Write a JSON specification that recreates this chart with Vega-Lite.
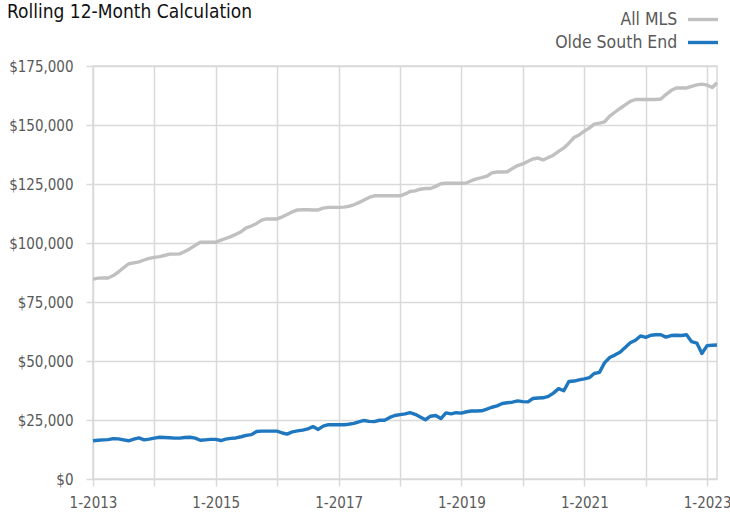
{
  "$schema": "https://vega.github.io/schema/vega-lite/v6.json",
  "autosize": "none",
  "width": 624,
  "height": 413,
  "padding": {"left": 93, "top": 66, "right": 13, "bottom": 35},
  "background": "white",
  "title": {
    "text": "Rolling 12-Month Calculation",
    "anchor": "start",
    "frame": "group",
    "dx": -86,
    "font": "DejaVu Sans Condensed, sans-serif",
    "fontSize": 19,
    "fontWeight": "normal",
    "color": "#111111",
    "baseline": "alphabetic",
    "offset": -27
  },
  "config": {
    "font": "DejaVu Sans Condensed, sans-serif",
    "view": {"stroke": "#d9d9d9", "strokeWidth": 1.5}
  },
  "data": {
    "values": [
      {"date": "2013-01-01", "All MLS": 84700, "Olde South End": 16200},
      {"date": "2013-02-01", "All MLS": 85100, "Olde South End": 16400},
      {"date": "2013-03-01", "All MLS": 85200, "Olde South End": 16600},
      {"date": "2013-04-01", "All MLS": 85200, "Olde South End": 16700},
      {"date": "2013-05-01", "All MLS": 86200, "Olde South End": 17100},
      {"date": "2013-06-01", "All MLS": 87700, "Olde South End": 17000},
      {"date": "2013-07-01", "All MLS": 89500, "Olde South End": 16600},
      {"date": "2013-08-01", "All MLS": 91200, "Olde South End": 16200},
      {"date": "2013-09-01", "All MLS": 91600, "Olde South End": 16900},
      {"date": "2013-10-01", "All MLS": 92000, "Olde South End": 17400},
      {"date": "2013-11-01", "All MLS": 92800, "Olde South End": 16600},
      {"date": "2013-12-01", "All MLS": 93500, "Olde South End": 16900},
      {"date": "2014-01-01", "All MLS": 93900, "Olde South End": 17300},
      {"date": "2014-02-01", "All MLS": 94200, "Olde South End": 17700},
      {"date": "2014-03-01", "All MLS": 94700, "Olde South End": 17600},
      {"date": "2014-04-01", "All MLS": 95300, "Olde South End": 17500},
      {"date": "2014-05-01", "All MLS": 95300, "Olde South End": 17300},
      {"date": "2014-06-01", "All MLS": 95400, "Olde South End": 17300},
      {"date": "2014-07-01", "All MLS": 96400, "Olde South End": 17600},
      {"date": "2014-08-01", "All MLS": 97600, "Olde South End": 17700},
      {"date": "2014-09-01", "All MLS": 99000, "Olde South End": 17300},
      {"date": "2014-10-01", "All MLS": 100300, "Olde South End": 16400},
      {"date": "2014-11-01", "All MLS": 100300, "Olde South End": 16600},
      {"date": "2014-12-01", "All MLS": 100300, "Olde South End": 16800},
      {"date": "2015-01-01", "All MLS": 100300, "Olde South End": 16800},
      {"date": "2015-02-01", "All MLS": 101200, "Olde South End": 16300},
      {"date": "2015-03-01", "All MLS": 101900, "Olde South End": 16900},
      {"date": "2015-04-01", "All MLS": 102700, "Olde South End": 17200},
      {"date": "2015-05-01", "All MLS": 103700, "Olde South End": 17400},
      {"date": "2015-06-01", "All MLS": 104800, "Olde South End": 17900},
      {"date": "2015-07-01", "All MLS": 106400, "Olde South End": 18500},
      {"date": "2015-08-01", "All MLS": 107200, "Olde South End": 18800},
      {"date": "2015-09-01", "All MLS": 108300, "Olde South End": 20100},
      {"date": "2015-10-01", "All MLS": 109700, "Olde South End": 20300},
      {"date": "2015-11-01", "All MLS": 110200, "Olde South End": 20300},
      {"date": "2015-12-01", "All MLS": 110200, "Olde South End": 20300},
      {"date": "2016-01-01", "All MLS": 110200, "Olde South End": 20300},
      {"date": "2016-02-01", "All MLS": 111100, "Olde South End": 19500},
      {"date": "2016-03-01", "All MLS": 112100, "Olde South End": 19000},
      {"date": "2016-04-01", "All MLS": 113200, "Olde South End": 20000},
      {"date": "2016-05-01", "All MLS": 114000, "Olde South End": 20400},
      {"date": "2016-06-01", "All MLS": 114100, "Olde South End": 20700},
      {"date": "2016-07-01", "All MLS": 114100, "Olde South End": 21200},
      {"date": "2016-08-01", "All MLS": 114000, "Olde South End": 22200},
      {"date": "2016-09-01", "All MLS": 114000, "Olde South End": 21000},
      {"date": "2016-10-01", "All MLS": 114800, "Olde South End": 22400},
      {"date": "2016-11-01", "All MLS": 115100, "Olde South End": 23000},
      {"date": "2016-12-01", "All MLS": 115100, "Olde South End": 23000},
      {"date": "2017-01-01", "All MLS": 115100, "Olde South End": 23000},
      {"date": "2017-02-01", "All MLS": 115200, "Olde South End": 23000},
      {"date": "2017-03-01", "All MLS": 115500, "Olde South End": 23200},
      {"date": "2017-04-01", "All MLS": 116200, "Olde South End": 23600},
      {"date": "2017-05-01", "All MLS": 117100, "Olde South End": 24200},
      {"date": "2017-06-01", "All MLS": 118200, "Olde South End": 24800},
      {"date": "2017-07-01", "All MLS": 119300, "Olde South End": 24400},
      {"date": "2017-08-01", "All MLS": 120000, "Olde South End": 24300},
      {"date": "2017-09-01", "All MLS": 120000, "Olde South End": 24900},
      {"date": "2017-10-01", "All MLS": 120000, "Olde South End": 24900},
      {"date": "2017-11-01", "All MLS": 120000, "Olde South End": 26100},
      {"date": "2017-12-01", "All MLS": 120000, "Olde South End": 26900},
      {"date": "2018-01-01", "All MLS": 120000, "Olde South End": 27300},
      {"date": "2018-02-01", "All MLS": 120800, "Olde South End": 27600},
      {"date": "2018-03-01", "All MLS": 121800, "Olde South End": 28100},
      {"date": "2018-04-01", "All MLS": 122100, "Olde South End": 27400},
      {"date": "2018-05-01", "All MLS": 122800, "Olde South End": 26300},
      {"date": "2018-06-01", "All MLS": 123100, "Olde South End": 25100},
      {"date": "2018-07-01", "All MLS": 123100, "Olde South End": 26600},
      {"date": "2018-08-01", "All MLS": 124000, "Olde South End": 26900},
      {"date": "2018-09-01", "All MLS": 125100, "Olde South End": 25600},
      {"date": "2018-10-01", "All MLS": 125300, "Olde South End": 28000},
      {"date": "2018-11-01", "All MLS": 125300, "Olde South End": 27600},
      {"date": "2018-12-01", "All MLS": 125300, "Olde South End": 28100},
      {"date": "2019-01-01", "All MLS": 125300, "Olde South End": 27900},
      {"date": "2019-02-01", "All MLS": 125500, "Olde South End": 28500},
      {"date": "2019-03-01", "All MLS": 126400, "Olde South End": 28800},
      {"date": "2019-04-01", "All MLS": 127200, "Olde South End": 28800},
      {"date": "2019-05-01", "All MLS": 127700, "Olde South End": 28900},
      {"date": "2019-06-01", "All MLS": 128300, "Olde South End": 29600},
      {"date": "2019-07-01", "All MLS": 129700, "Olde South End": 30400},
      {"date": "2019-08-01", "All MLS": 130100, "Olde South End": 31000},
      {"date": "2019-09-01", "All MLS": 130100, "Olde South End": 32000},
      {"date": "2019-10-01", "All MLS": 130200, "Olde South End": 32300},
      {"date": "2019-11-01", "All MLS": 131600, "Olde South End": 32600},
      {"date": "2019-12-01", "All MLS": 132800, "Olde South End": 33100},
      {"date": "2020-01-01", "All MLS": 133500, "Olde South End": 32800},
      {"date": "2020-02-01", "All MLS": 134600, "Olde South End": 32700},
      {"date": "2020-03-01", "All MLS": 135600, "Olde South End": 34100},
      {"date": "2020-04-01", "All MLS": 136000, "Olde South End": 34300},
      {"date": "2020-05-01", "All MLS": 135200, "Olde South End": 34400},
      {"date": "2020-06-01", "All MLS": 136200, "Olde South End": 35000},
      {"date": "2020-07-01", "All MLS": 137200, "Olde South End": 36400},
      {"date": "2020-08-01", "All MLS": 138800, "Olde South End": 38300},
      {"date": "2020-09-01", "All MLS": 140300, "Olde South End": 37400},
      {"date": "2020-10-01", "All MLS": 142300, "Olde South End": 41300},
      {"date": "2020-11-01", "All MLS": 144700, "Olde South End": 41500},
      {"date": "2020-12-01", "All MLS": 145800, "Olde South End": 42000},
      {"date": "2021-01-01", "All MLS": 147400, "Olde South End": 42400},
      {"date": "2021-02-01", "All MLS": 148800, "Olde South End": 43000},
      {"date": "2021-03-01", "All MLS": 150400, "Olde South End": 44700},
      {"date": "2021-04-01", "All MLS": 150800, "Olde South End": 45200},
      {"date": "2021-05-01", "All MLS": 151300, "Olde South End": 49200},
      {"date": "2021-06-01", "All MLS": 153800, "Olde South End": 51500},
      {"date": "2021-07-01", "All MLS": 155400, "Olde South End": 52500},
      {"date": "2021-08-01", "All MLS": 157000, "Olde South End": 53700},
      {"date": "2021-09-01", "All MLS": 158500, "Olde South End": 55700},
      {"date": "2021-10-01", "All MLS": 160000, "Olde South End": 57700},
      {"date": "2021-11-01", "All MLS": 160800, "Olde South End": 58800},
      {"date": "2021-12-01", "All MLS": 160800, "Olde South End": 60600},
      {"date": "2022-01-01", "All MLS": 160800, "Olde South End": 60000},
      {"date": "2022-02-01", "All MLS": 160800, "Olde South End": 60900},
      {"date": "2022-03-01", "All MLS": 160800, "Olde South End": 61100},
      {"date": "2022-04-01", "All MLS": 161000, "Olde South End": 61100},
      {"date": "2022-05-01", "All MLS": 162900, "Olde South End": 60100},
      {"date": "2022-06-01", "All MLS": 164600, "Olde South End": 60800},
      {"date": "2022-07-01", "All MLS": 165700, "Olde South End": 60900},
      {"date": "2022-08-01", "All MLS": 165700, "Olde South End": 60800},
      {"date": "2022-09-01", "All MLS": 165700, "Olde South End": 61100},
      {"date": "2022-10-01", "All MLS": 166400, "Olde South End": 58200},
      {"date": "2022-11-01", "All MLS": 167000, "Olde South End": 57600},
      {"date": "2022-12-01", "All MLS": 167300, "Olde South End": 53200},
      {"date": "2023-01-01", "All MLS": 166900, "Olde South End": 56500},
      {"date": "2023-02-01", "All MLS": 165900, "Olde South End": 56700},
      {"date": "2023-03-01", "All MLS": 167900, "Olde South End": 56800}
    ]
  },
  "transform": [
    {"fold": ["All MLS", "Olde South End"], "as": ["series", "value"]}
  ],
  "mark": {"type": "line", "strokeWidth": 3.4, "strokeJoin": "round", "clip": false},
  "encoding": {
    "x": {
      "field": "date",
      "type": "temporal",
      "scale": {"type": "utc", "domain": ["2013-01-01", "2023-03-01"], "nice": false},
      "axis": {
        "title": null,
        "domain": false,
        "grid": true,
        "gridColor": "#d9d9d9",
        "gridWidth": 1.5,
        "ticks": true,
        "tickColor": "#d9d9d9",
        "tickWidth": 1.5,
        "tickSize": 7,
        "tickCount": {"interval": "year", "step": 1},
        "labelExpr": "utcyear(datum.value) % 2 == 1 ? utcFormat(datum.value, '%-m-%Y') : ''",
        "labelOverlap": false,
        "labelFlush": false,
        "labelPadding": 9,
        "labelFontSize": 15,
        "labelColor": "#595959"
      }
    },
    "y": {
      "field": "value",
      "type": "quantitative",
      "scale": {"domain": [0, 175000], "nice": false, "zero": true},
      "axis": {
        "title": null,
        "domain": false,
        "values": [0, 25000, 50000, 75000, 100000, 125000, 150000, 175000],
        "format": "$,.0f",
        "gridColor": "#d9d9d9",
        "gridWidth": 1.5,
        "tickColor": "#d9d9d9",
        "tickWidth": 1.5,
        "tickSize": 7,
        "labelPadding": 13,
        "labelFontSize": 15,
        "labelColor": "#595959"
      }
    },
    "color": {
      "field": "series",
      "type": "nominal",
      "scale": {"domain": ["All MLS", "Olde South End"], "range": ["#c0c0c0", "#1f77bf"]},
      "legend": {
        "title": null,
        "orient": "none",
        "legendX": 600.5,
        "legendY": -56,
        "direction": "vertical",
        "symbolType": "M-2,0H2",
        "symbolSize": 225,
        "symbolStrokeWidth": 3.4,
        "labelAlign": "right",
        "labelOffset": -35.2,
        "labelFontSize": 17.5,
        "labelColor": "#595959",
        "rowPadding": 5
      }
    }
  }
}
